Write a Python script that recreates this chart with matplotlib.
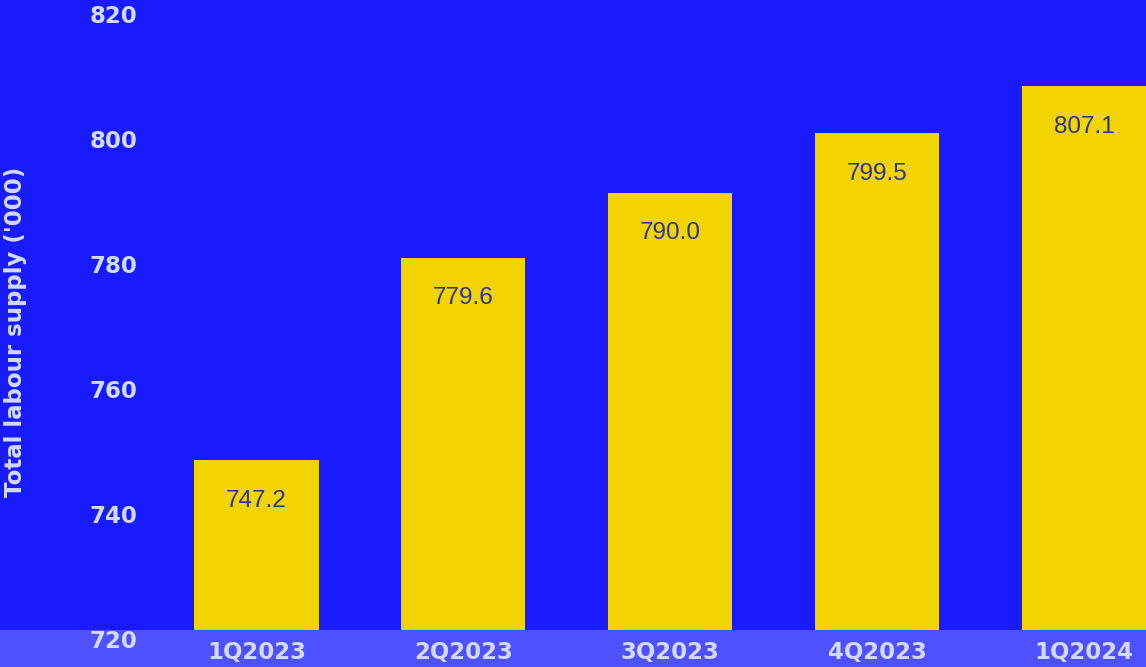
import matplotlib.pyplot as plt
from matplotlib.patches import Rectangle

quarters = ["1Q2023", "2Q2023", "3Q2023", "4Q2023", "1Q2024"]
supply = [747.2, 779.6, 790.0, 799.5, 807.1]
yticks = [720, 740, 760, 780, 800, 820]

bg = "#1a1aff"
band = "#5050ff"
txt = "#cfdcff"
bar_col = "#f2d500"
val_col = "#2e3590"

plt.rcParams["font.family"] = ["Liberation Sans", "DejaVu Sans"]
bold = ["DejaVu Sans"]

fig = plt.figure(figsize=(11.46, 6.67), dpi=100, facecolor=bg)
# lighter strip along the bottom
fig.patches.append(Rectangle((0, 0), 1, 37 / 667, transform=fig.transFigure,
                             facecolor=band, edgecolor="none", zorder=-1))

ax = fig.add_axes([153 / 1146, 37 / 667, 1 - 153 / 1146, 630 / 667])
ax.set_facecolor("none")

x = range(len(quarters))
ax.bar(x, supply, width=0.6, color=bar_col, zorder=2)

for i, v in enumerate(supply):
    ax.annotate(f"{v:.1f}", (i, v), xytext=(0, -29.5), textcoords="offset points",
                ha="center", va="center", fontsize=17.5, color=val_col)

ax.set_xlim(-0.5, 4.3)
ax.set_ylim(720, 820.8)
ax.set_yticks(yticks)
ax.set_yticklabels([str(t) for t in yticks], fontsize=16.5, fontweight="bold",
                   color=txt, va="top", family=bold)
ax.set_xticks(list(x))
ax.set_xticklabels(quarters, fontsize=16.5, fontweight="bold", color=txt,
                   family=bold)
ax.tick_params(axis="y", length=0, pad=11)
ax.tick_params(axis="x", length=0, pad=8)
for s in ax.spines.values():
    s.set_visible(False)

fig.text(16 / 1146, 1 - 332 / 667, "Total labour supply ('000)", rotation=90,
         ha="center", va="center", fontsize=16.5, fontweight="bold", color=txt,
         family=bold)

fig.savefig("out.png", dpi=100, facecolor=bg)
